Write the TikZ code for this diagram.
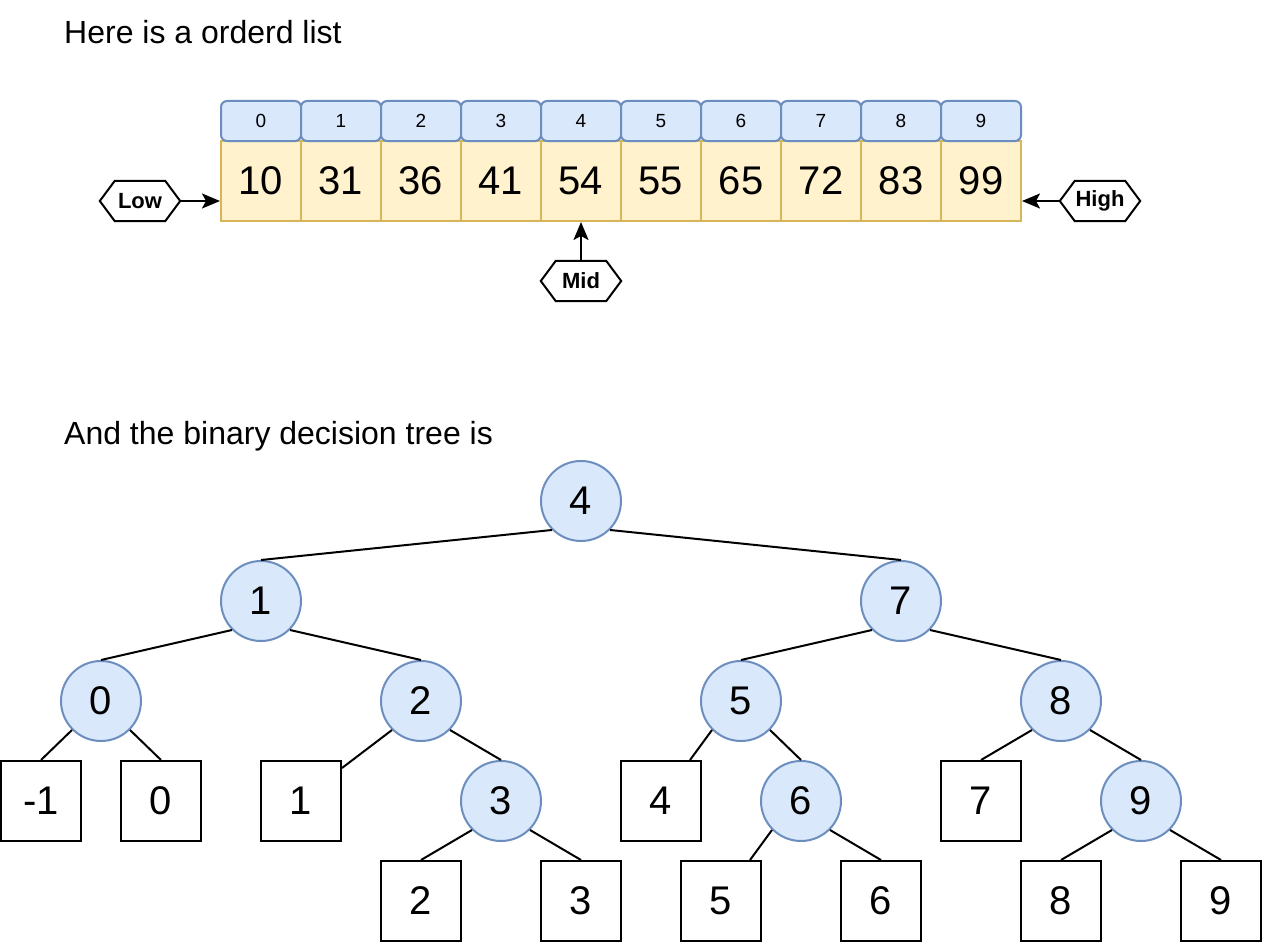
\documentclass[tikz,border=0pt]{standalone}
\usepackage{fontspec}
\setmainfont{Liberation Sans}
\usetikzlibrary{arrows.meta,calc}
\definecolor{bluefill}{HTML}{DAE8FC}
\definecolor{bluedraw}{HTML}{6C8EBF}
\definecolor{yelfill}{HTML}{FFF2CC}
\definecolor{yeldraw}{HTML}{D6B656}
\begin{document}
\begin{tikzpicture}[x=1pt,y=-1pt,
  every node/.style={inner sep=0pt},
  idxbox/.style={draw=bluedraw, fill=bluefill, line width=2pt, rounded corners=6pt, minimum width=80pt, minimum height=40pt, font=\fontsize{19}{19}\selectfont},
  valbox/.style={draw=yeldraw, fill=yelfill, line width=2pt, minimum width=80pt, minimum height=80pt, font=\fontsize{40}{40}\selectfont},
  ptr/.style={minimum width=80pt, minimum height=40pt, font=\fontsize{22}{22}\selectfont\bfseries},
  hexline/.style={draw=black, line width=2pt, line join=miter},
  ptrarrow/.style={draw=black, line width=2pt, -{Stealth[length=18pt,width=15pt,inset=4pt]}},
  tnode/.style={circle, draw=bluedraw, fill=bluefill, line width=2pt, minimum size=80pt, font=\fontsize{40}{40}\selectfont},
  leaf/.style={draw=black, fill=white, line width=2pt, minimum size=80pt, font=\fontsize{40}{40}\selectfont},
  tedge/.style={draw=black, line width=2pt},
  title/.style={anchor=base west, font=\fontsize{32}{32}\selectfont}
]
\useasboundingbox (0,0) rectangle (1262,942);
\fill[white] (0,0) rectangle (1262,942);

% titles
\node[title] (t1) at (64,44) {Here is a orderd list};
\node[title] (t2) at (64,444) {And the binary decision tree is};

% array
\foreach \v [count=\i from 0] in {10,31,36,41,54,55,65,72,83,99} {
  \node[valbox] (v\i) at (261+80*\i,181) {\v};
  \node[idxbox] (i\i) at (261+80*\i,121) {\i};
}

% pointers
\node[ptr] (lo) at (140,201) {Low};
\node[ptr] (hi) at (1100,201) {High};
\node[ptr] (mid) at (581,281) {Mid};
\foreach \p in {lo,hi,mid} {
  \draw[hexline] ([xshift=15pt]\p.north west) -- ([xshift=-15pt]\p.north east) -- (\p.east)
    -- ([xshift=-15pt]\p.south east) -- ([xshift=15pt]\p.south west) -- (\p.west) -- cycle;
}
\coordinate (lotgt) at (lo.east -| v0.west);
\coordinate (hitgt) at (hi.west -| v9.east);
\draw[ptrarrow] (lo.east) -- (lotgt);
\draw[ptrarrow] (hi.west) -- (hitgt);
\draw[ptrarrow] (mid.north) -- (v4.south);

% tree nodes
\node[tnode] (r) at (581,501) {4};
\node[tnode] (c1) at (261,601) {1};
\node[tnode] (c7) at (901,601) {7};
\node[tnode] (c0) at (101,701) {0};
\node[tnode] (c2) at (421,701) {2};
\node[tnode] (c5) at (741,701) {5};
\node[tnode] (c8) at (1061,701) {8};
\node[leaf] (bm1) at (41,801) {-1};
\node[leaf] (b0) at (161,801) {0};
\node[leaf] (b1) at (301,801) {1};
\node[tnode] (c3) at (501,801) {3};
\node[leaf] (b4) at (661,801) {4};
\node[tnode] (c6) at (801,801) {6};
\node[leaf] (b7) at (981,801) {7};
\node[tnode] (c9) at (1141,801) {9};
\node[leaf] (b2) at (421,901) {2};
\node[leaf] (b3) at (581,901) {3};
\node[leaf] (b5) at (721,901) {5};
\node[leaf] (b6) at (881,901) {6};
\node[leaf] (b8) at (1061,901) {8};
\node[leaf] (b9) at (1221,901) {9};

\coordinate (e1) at ($(b1.north east)+(0,8)$);
\coordinate (e4) at ($(b4.north)+(29,0)$);
\coordinate (e5) at ($(b5.north)+(29,0)$);

\draw[tedge] (r.south west) -- (c1.north);
\draw[tedge] (r.south east) -- (c7.north);
\draw[tedge] (c1.south west) -- (c0.north);
\draw[tedge] (c1.south east) -- (c2.north);
\draw[tedge] (c7.south west) -- (c5.north);
\draw[tedge] (c7.south east) -- (c8.north);
\draw[tedge] (c0.south west) -- (bm1.north);
\draw[tedge] (c0.south east) -- (b0.north);
\draw[tedge] (c2.south west) -- (e1);
\draw[tedge] (c2.south east) -- (c3.north);
\draw[tedge] (c5.south west) -- (e4);
\draw[tedge] (c5.south east) -- (c6.north);
\draw[tedge] (c8.south west) -- (b7.north);
\draw[tedge] (c8.south east) -- (c9.north);
\draw[tedge] (c3.south west) -- (b2.north);
\draw[tedge] (c3.south east) -- (b3.north);
\draw[tedge] (c6.south west) -- (e5);
\draw[tedge] (c6.south east) -- (b6.north);
\draw[tedge] (c9.south west) -- (b8.north);
\draw[tedge] (c9.south east) -- (b9.north);
\end{tikzpicture}
\end{document}
